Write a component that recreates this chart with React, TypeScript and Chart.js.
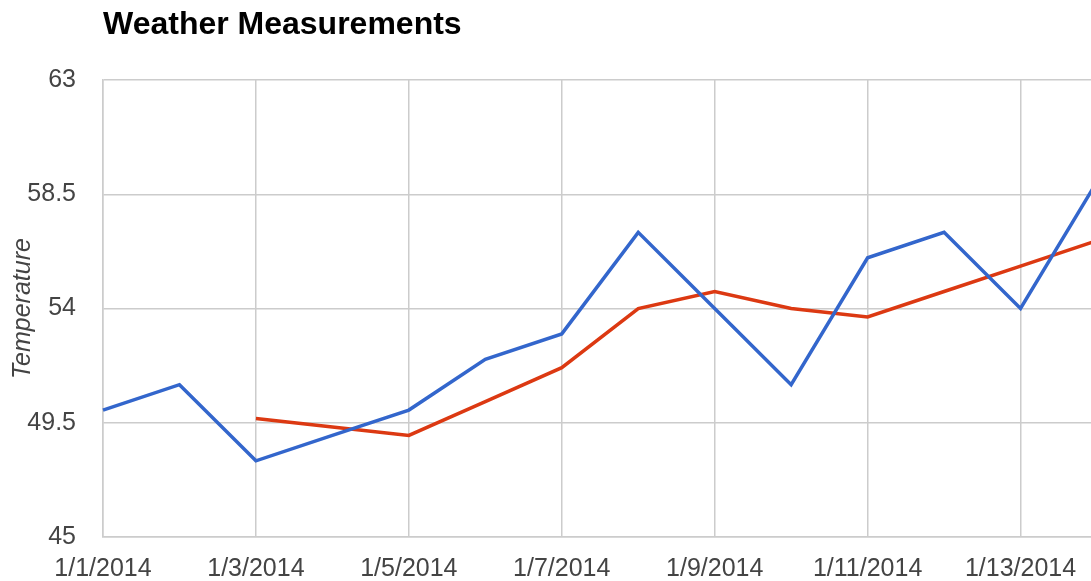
import React, { useEffect, useRef } from "react";
import { Chart, registerables } from "chart.js";

Chart.register(...registerables);

const categories = [
  "1/1/2014", "1/2/2014", "1/3/2014", "1/4/2014", "1/5/2014", "1/6/2014", "1/7/2014",
  "1/8/2014", "1/9/2014", "1/10/2014", "1/11/2014", "1/12/2014", "1/13/2014", "1/14/2014",
];
const temperature = [50, 51, 48, 49, 50, 52, 53, 57, 54, 51, 56, 57, 54, 59];
const movingAverage = [null, null, 49.67, 49.33, 49, 50.33, 51.67, 54, 54.67, 54, 53.67, 54.67, 55.67, 56.67];
const yTicks = [45, 49.5, 54, 58.5, 63];

const FONT = '"Liberation Sans", Arial, sans-serif';

const titlePlugin = {
  id: "leftTitle",
  afterDraw(chart: any) {
    const { ctx, chartArea } = chart;
    ctx.save();
    ctx.font = `bold 32px ${FONT}`;
    ctx.fillStyle = "#000";
    ctx.textAlign = "left";
    ctx.textBaseline = "alphabetic";
    ctx.fillText("Weather Measurements", chartArea.left, 34);
    ctx.restore();
  },
};

export default function App() {
  const ref = useRef<HTMLCanvasElement>(null);
  useEffect(() => {
    if (!ref.current) return;
    const chart = new Chart(ref.current, {
      type: "line",
      data: {
        labels: categories,
        datasets: [
          {
            label: "Temperature",
            data: temperature,
            borderColor: "#3366cc",
            backgroundColor: "#3366cc",
            borderWidth: 3.5,
            pointRadius: 0,
            tension: 0,
          },
          {
            label: "Moving average",
            data: movingAverage,
            borderColor: "#dc3912",
            backgroundColor: "#dc3912",
            borderWidth: 3.5,
            pointRadius: 0,
            tension: 0,
            spanGaps: false,
          },
        ],
      },
      options: {
        responsive: false,
        animation: false,
        layout: { padding: { top: 80, left: 0, right: 0, bottom: 0 } },
        plugins: {
          legend: { display: false },
          tooltip: { enabled: false },
          title: { display: false },
        },
        scales: {
          x: {
            type: "category",
            offset: false,
            grid: {
              color: (c: any) => (c.index % 2 === 0 ? "#cccccc" : "rgba(0,0,0,0)"),
              lineWidth: 1.5,
              drawTicks: false,
            },
            border: { color: "#cccccc", width: 1.5 },
            ticks: {
              autoSkip: false,
              maxRotation: 0,
              minRotation: 0,
              padding: 17,
              color: "#444444",
              font: { family: FONT, size: 25 },
              callback: (_v: any, i: number) => (i % 2 === 0 ? categories[i] : ""),
            },
            afterFit: (s: any) => {
              s.height = 44;
            },
          },
          y: {
            min: 45,
            max: 63,
            afterBuildTicks: (s: any) => {
              s.ticks = yTicks.map((v) => ({ value: v }));
            },
            grid: { color: "#cccccc", lineWidth: 1.5, drawTicks: false },
            border: { color: "#cccccc", width: 1.5 },
            ticks: {
              padding: 27,
              color: "#444444",
              font: { family: FONT, size: 25 },
              callback: (v: any) => String(v),
            },
            title: {
              display: true,
              text: "Temperature",
              color: "#444444",
              font: { family: FONT, size: 25, style: "italic" },
              padding: { top: 8, bottom: 0 },
            },
            afterFit: (s: any) => {
              s.width = 103;
            },
          },
        },
      },
      plugins: [titlePlugin],
    });
    return () => chart.destroy();
  }, []);
  return (
    <div
      style={{
        position: "fixed",
        left: 0,
        top: 0,
        width: 1091,
        height: 581,
        overflow: "hidden",
        background: "#fff",
      }}
    >
      <canvas ref={ref} width={1114} height={581} style={{ display: "block" }} />
    </div>
  );
}
